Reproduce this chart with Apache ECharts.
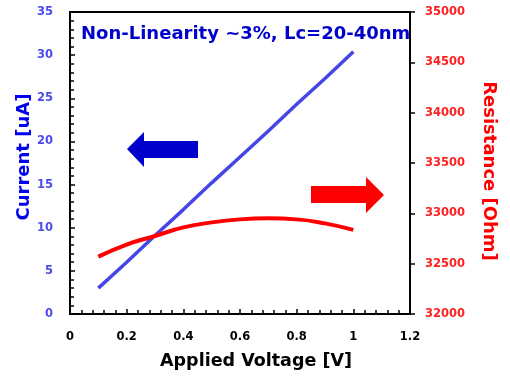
<!DOCTYPE html>
<html>
<head>
<meta charset="utf-8">
<script src="https://cdn.jsdelivr.net/npm/echarts@6/dist/echarts.min.js"></script>
<style>
  html, body { margin: 0; padding: 0; background: #fff; }
  #chart { width: 510px; height: 378px; }
</style>
</head>
<body>
<div id="chart"></div>
<script>
// 数据：施加电压、电流、电阻
const voltage = [0.1, 0.2, 0.3, 0.4, 0.5, 0.6, 0.7, 0.8, 0.9, 1.0]
const current = [3.0, 6.0, 9.1, 12.1, 15.2, 18.2, 21.2, 24.3, 27.3, 30.4]
const resistance = [32570, 32690, 32775, 32860, 32910, 32940, 32950, 32940, 32900, 32835]
const titleText = 'Non-Linearity ~3%, Lc=20-40nm'

const font = 'DejaVu Sans'
const chart = echarts.init(document.getElementById('chart'))

const option = {
  animation: false,
  title: {
    text: titleText,
    left: 76,
    top: 20,
    textStyle: { fontFamily: font, fontSize: 18, fontWeight: 'bold', color: '#0000cc' }
  },
  grid: {
    left: 70, right: 100, top: 12, bottom: 64,
    show: true, borderColor: '#000', borderWidth: 2
  },
  xAxis: {
    type: 'value',
    min: 0, max: 1.2, interval: 0.2,
    name: 'Applied Voltage [V]',
    nameLocation: 'middle',
    nameGap: 38,
    nameTextStyle: { fontFamily: font, fontSize: 17.5, fontWeight: 'bold', color: '#000', padding: [0, 0, 0, 32] },
    axisLine: { lineStyle: { color: '#000', width: 2 } },
    axisTick: { inside: true, length: 5, lineStyle: { color: '#000', width: 1.5 } },
    minorTick: { show: true, splitNumber: 5, length: 4, lineStyle: { color: '#000', width: 1.5 } },
    axisLabel: { fontFamily: font, fontSize: 11.5, fontWeight: 'bold', color: '#000', margin: 17 },
    splitLine: { show: false }
  },
  yAxis: [
    {
      type: 'value',
      min: 0, max: 35, interval: 5,
      name: 'Current [uA]',
      nameLocation: 'middle',
      nameGap: 37,
      nameMoveOverlap: false,
      nameTextStyle: { fontFamily: font, fontSize: 18, fontWeight: 'bold', color: '#0000ee', padding: [0, 0, 0, 12] },
      axisLine: { show: true, lineStyle: { color: '#000', width: 2 } },
      axisTick: { inside: true, length: 5, lineStyle: { color: '#000', width: 1.5 } },
      minorTick: { show: true, splitNumber: 5, length: 4, lineStyle: { color: '#000', width: 1.5 } },
      axisLabel: { fontFamily: font, fontSize: 11.5, fontWeight: 'bold', color: '#4a4af0', margin: 17 },
      splitLine: { show: false }
    },
    {
      type: 'value',
      min: 32000, max: 35000, interval: 500,
      position: 'right',
      name: 'Resistance [Ohm]',
      nameLocation: 'middle',
      nameGap: 70,
      nameRotate: -90,
      nameTextStyle: { fontFamily: font, fontSize: 18, fontWeight: 'bold', color: '#ff0000', padding: [0, 0, 0, 16] },
      axisLine: { show: true, lineStyle: { color: '#000', width: 2 } },
      axisTick: { inside: false, length: 5, lineStyle: { color: '#000', width: 1.5 } },
      axisLabel: { fontFamily: font, fontSize: 11.5, fontWeight: 'bold', color: '#ff2020', margin: 15, formatter: v => String(v) },
      splitLine: { show: false }
    }
  ],
  series: [
    {
      name: 'Current',
      type: 'line',
      yAxisIndex: 0,
      data: voltage.map((v, i) => [v, current[i]]),
      showSymbol: false,
      lineStyle: { color: '#4646e6', width: 3.5 }
    },
    {
      name: 'Resistance',
      type: 'line',
      yAxisIndex: 1,
      smooth: true,
      data: voltage.map((v, i) => [v, resistance[i]]),
      showSymbol: false,
      lineStyle: { color: '#ff0000', width: 4 }
    }
  ],
  // 左右箭头
  graphic: [
    {
      type: 'polygon',
      shape: { points: [[127, 149], [144, 132], [144, 141], [198, 141], [198, 158], [144, 158], [144, 167]] },
      style: { fill: '#0000cc' }
    },
    {
      type: 'polygon',
      shape: { points: [[384, 195], [366, 177], [366, 186], [311, 186], [311, 203], [366, 203], [366, 213]] },
      style: { fill: '#ff0000' }
    }
  ]
}

chart.setOption(option)
</script>
</body>
</html>
